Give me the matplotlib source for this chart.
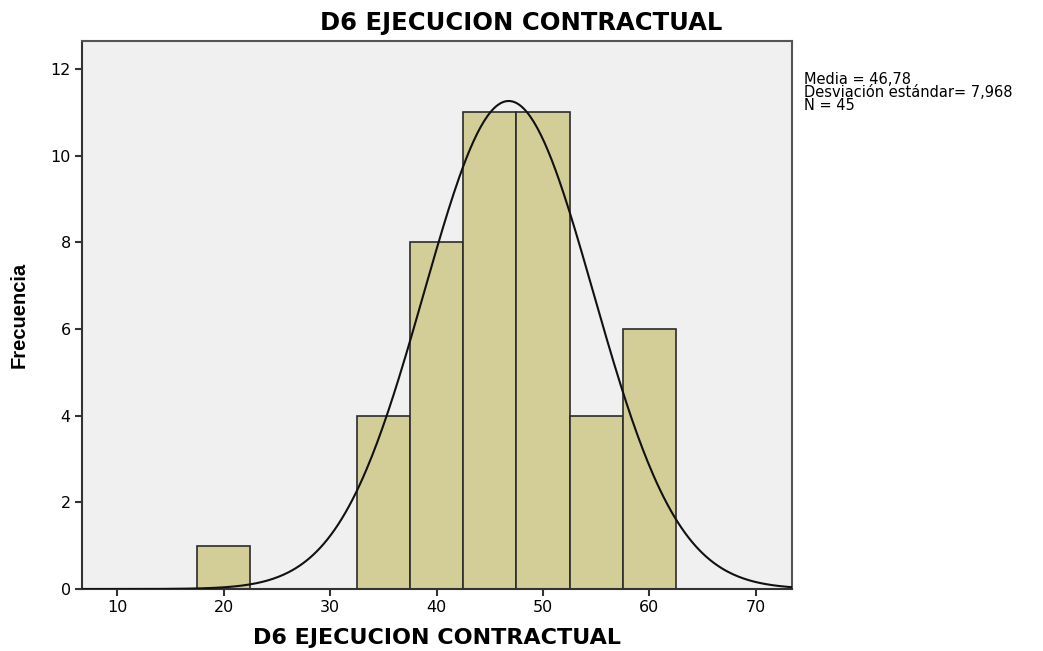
import numpy as np
import matplotlib
matplotlib.use('Agg')
import matplotlib.pyplot as plt

# histogram data (bin centers, width 5)
bin_centers = [20, 35, 40, 45, 50, 55, 60]
counts = [1, 4, 8, 11, 11, 4, 6]
bin_width = 5
media = 46.78
desv = 7.968
n_total = 45

title = "D6 EJECUCION CONTRACTUAL"
x_ticks = [10, 20, 30, 40, 50, 60, 70]
y_ticks = [0, 2, 4, 6, 8, 10, 12]

plt.rcParams['font.family'] = ['DejaVu Sans']

fig = plt.figure(figsize=(10.43, 6.51), dpi=100)
ax = fig.add_axes([0.0786, 0.0952, 0.6807, 0.8418])
ax.set_facecolor('#f0f0f0')

ax.bar(bin_centers, counts, width=bin_width, color='#d3ce97',
       edgecolor='#2b2b2b', linewidth=1.2, zorder=2)

# normal curve scaled to counts
xmin, xmax = 6.68, 73.4
xs = np.linspace(xmin, xmax, 400)
ys = n_total * bin_width / (desv * np.sqrt(2 * np.pi)) * np.exp(-0.5 * ((xs - media) / desv) ** 2)
ax.plot(xs, ys, color='#111111', linewidth=1.5, zorder=3)

ax.set_xlim(xmin, xmax)
ax.set_ylim(0, 12.65)
ax.set_xticks(x_ticks)
ax.set_yticks(y_ticks)
ax.tick_params(axis='both', direction='out', length=5, width=1.5, color='#333333',
               labelsize=11.5, pad=3)
for s in ax.spines.values():
    s.set_color('#555555')
    s.set_linewidth(1.5)
ax.spines['bottom'].set_color('#333333')
ax.spines['left'].set_color('#333333')

fig.text(0.5, 0.965, title, ha='center', va='center', fontsize=17.5, fontweight='bold')
ax.set_xlabel(title, fontsize=16, fontweight='bold', labelpad=9)
ax.set_ylabel("Frecuencia", fontsize=14.5, fontweight='bold', labelpad=16,
              family=['Liberation Sans', 'DejaVu Sans'])

stats = "Media = 46,78\nDesviación estándar= 7,968\nN = 45"
fig.text(0.7705, 0.890, stats, ha='left', va='top', fontsize=10.5, linespacing=0.83)

fig.savefig('out.png', dpi=100)
